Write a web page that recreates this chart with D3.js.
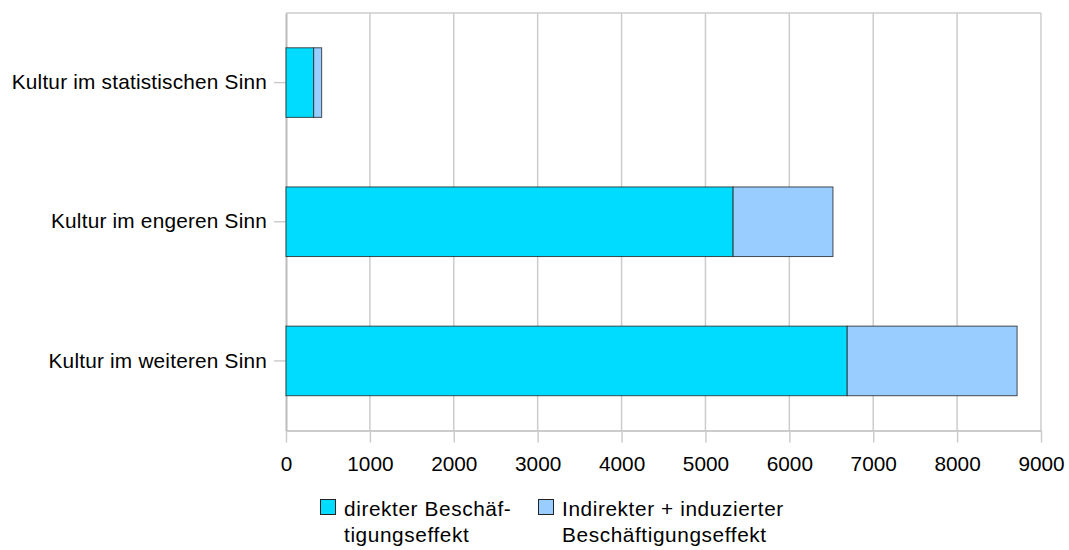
<!DOCTYPE html>
<html>
<head>
<meta charset="utf-8">
<script src="https://cdn.jsdelivr.net/npm/d3@7"></script>
<style>
  html, body { margin: 0; padding: 0; background: #fff; }
  svg { display: block; font-family: "Liberation Sans", Arial, sans-serif; }
</style>
</head>
<body>
<svg id="chart" width="1069" height="550"></svg>
<script>
// Beschäftigungseffekte der Kultur nach Abgrenzung
const categories = ["Kultur im statistischen Sinn", "Kultur im engeren Sinn", "Kultur im weiteren Sinn"];
const direkt = [330, 5330, 6690];
const indirekt = [95, 1190, 2025];
const seriesNames = [["direkter Beschäf-", "tigungseffekt"], ["Indirekter + induzierter", "Beschäftigungseffekt"]];
const seriesColors = ["#00dcff", "#99ccff"];
const xTicks = [0, 1000, 2000, 3000, 4000, 5000, 6000, 7000, 8000, 9000];

const svg = d3.select("#chart");
const m = { left: 286, right: 1041, top: 13, bottom: 430.5 };
const fontSize = 20.8;

const x = d3.scaleLinear().domain([0, 9000]).range([m.left, m.right]);
const y = d3.scaleBand().domain(categories).range([m.top, m.bottom]).paddingInner(0.5).paddingOuter(0.25);

const gridColor = "#cccccc";

// vertical grid lines
svg.append("g").selectAll("line").data(xTicks.slice(1)).join("line")
  .attr("x1", d => x(d)).attr("x2", d => x(d))
  .attr("y1", m.top).attr("y2", m.bottom)
  .attr("stroke", gridColor).attr("stroke-width", 1.5);

// top border
svg.append("line")
  .attr("x1", m.left).attr("x2", m.right).attr("y1", m.top).attr("y2", m.top)
  .attr("stroke", gridColor).attr("stroke-width", 1.5);

// x axis
const xAxis = svg.append("g").attr("transform", `translate(0,${m.bottom})`)
  .call(d3.axisBottom(x).tickValues(xTicks).tickSize(12).tickSizeOuter(0).tickPadding(14).tickFormat(d3.format("d")));
xAxis.select(".domain").attr("stroke", "#bbbbbb").attr("stroke-width", 1.5);
xAxis.selectAll(".tick line").attr("stroke", "#cccccc").attr("stroke-width", 1.5);
xAxis.selectAll("text").attr("font-size", fontSize).attr("fill", "#000")
  .attr("font-family", "'Liberation Sans', Arial, sans-serif");

// y axis
const yAxis = svg.append("g").attr("transform", `translate(${m.left},0)`)
  .call(d3.axisLeft(y).tickSize(12).tickSizeOuter(0).tickPadding(7));
yAxis.select(".domain").attr("stroke", "#bbbbbb").attr("stroke-width", 2);
yAxis.selectAll(".tick line").attr("stroke", "#cccccc").attr("stroke-width", 1.5);
yAxis.selectAll("text").attr("font-size", fontSize).attr("fill", "#000")
  .attr("letter-spacing", 0.2)
  .attr("font-family", "'Liberation Sans', Arial, sans-serif");

// stacked bars
const rows = categories.map((c, i) => ({ cat: c, direkt: direkt[i], indirekt: indirekt[i] }));
const stack = d3.stack().keys(["direkt", "indirekt"])(rows);
svg.append("g").selectAll("g").data(stack).join("g")
  .attr("fill", (d, i) => seriesColors[i])
  .selectAll("rect").data(d => d).join("rect")
  .attr("x", d => x(d[0]))
  .attr("width", d => x(d[1]) - x(d[0]))
  .attr("y", d => y(d.data.cat))
  .attr("height", y.bandwidth())
  .attr("stroke", "#222").attr("stroke-width", 1).attr("stroke-opacity", 0.8);

// legend
const legendX = [320, 538];
const leg = svg.append("g").selectAll("g").data(seriesNames).join("g")
  .attr("transform", (d, i) => `translate(${legendX[i]},499)`);
leg.append("rect").attr("x", 0.5).attr("y", 0.5).attr("width", 15).attr("height", 15)
  .attr("fill", (d, i) => seriesColors[i]).attr("stroke", "#222").attr("stroke-width", 1);
leg.append("text").attr("y", 17)
  .attr("font-size", fontSize).attr("fill", "#000")
  .attr("letter-spacing", 0.6)
  .selectAll("tspan").data(d => d).join("tspan")
  .attr("x", 24).attr("dy", (d, i) => i === 0 ? 0 : 26)
  .text(d => d);
</script>
</body>
</html>
